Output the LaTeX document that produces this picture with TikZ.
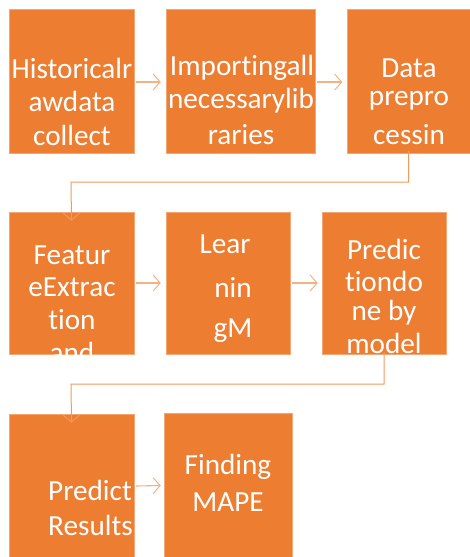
\documentclass[tikz,border=0pt]{standalone}
\usepackage{fontspec}
\setmainfont{Carlito}[Ligatures={NoCommon}]
\usetikzlibrary{arrows.meta}
\definecolor{boxor}{HTML}{ED7D31}
\definecolor{boxedge}{HTML}{F3A874}
\definecolor{arrlight}{HTML}{F4B183}
\definecolor{arrmid}{HTML}{F09A5E}
\tikzset{
  box/.style={fill=boxor, draw=boxedge, line width=0.6pt},
  txt/.style={text=white, font=\fontsize{29.2}{29.2}\selectfont, inner sep=0pt, anchor=center},
  flow/.style={draw=arrlight, line width=1.1pt, -{Straight Barb[length=7pt,width=16pt,line width=1pt]}},
  elbow/.style={draw=arrmid, line width=1pt, -{Straight Barb[length=7pt,width=16pt,line width=1pt]}}
}
\begin{document}
\begin{tikzpicture}[x=1pt,y=-1pt]
\useasboundingbox (0,0) rectangle (469,557);
% boxes
\path[box] (9,9) rectangle (134,153);
\path[box] (166,9) rectangle (315,153);
\path[box] (347,9) rectangle (470,153);
\path[box] (9,212) rectangle (134,354);
\path[box] (166,212) rectangle (290,354);
\path[box] (322,212) rectangle (446,354);
\path[box] (9,414) rectangle (134,558);
\path[box] (164,413) rectangle (292,558);
% node anchors for connectors
\node[inner sep=0pt, minimum width=125pt, minimum height=144pt] (nA) at (71.5,81) {};
\node[inner sep=0pt, minimum width=149pt, minimum height=144pt] (nB) at (240.5,81) {};
\node[inner sep=0pt, minimum width=124pt, minimum height=144pt] (nC) at (408.5,81) {};
\node[inner sep=0pt, minimum width=125pt, minimum height=142pt] (nD) at (71.5,283) {};
\node[inner sep=0pt, minimum width=124pt, minimum height=142pt] (nE) at (228,283) {};
\node[inner sep=0pt, minimum width=124pt, minimum height=142pt] (nF) at (384,283) {};
\node[inner sep=0pt, minimum width=125pt, minimum height=144pt] (nG) at (71.5,486) {};
\node[inner sep=0pt, minimum width=128pt, minimum height=145pt] (nH) at (228,485.5) {};
% texts row 1
\node[txt] (tA1) at (72,68) {Historicalr};
\node[txt] (tA2) at (72,101) {awdata};
\node[txt] (tA3) at (72,135) {collect};
\node[txt] (tB1) at (242,68) {Importingall};
\node[txt] (tB2) at (241,101) {necessarylib};
\node[txt] (tB3) at (241,135) {raries};
\node[txt] (tC1) at (409,68) {Data};
\node[txt] (tC2) at (409,101) {prepro};
\node[txt] (tC3) at (409,135) {cessin};
% row 2
\node[txt] (tD1) at (72,255) {Featur};
\node[txt] (tD2) at (72,287) {eExtrac};
\node[txt] (tD3) at (72,320) {tion};
\begin{scope}
\clip (9,212) rectangle (134,354);
\node[txt] (tD4) at (72,352) {and};
\end{scope}
\node[txt] (tE1) at (225,244) {Lear};
\node[txt] (tE2) at (233,287) {nin};
\node[txt] (tE3) at (233,331) {gM};
\node[txt] (tF1) at (384,249) {Predic};
\node[txt] (tF2) at (384,281) {tiondo};
\node[txt] (tF3) at (384,313) {ne by};
\begin{scope}
\clip (322,212) rectangle (446,354);
\node[txt] (tF4) at (384,343) {model};
\end{scope}
% row 3
\node[txt, anchor=west] (tG1) at (48,490) {Predict};
\node[txt, anchor=west] (tG2) at (48,525) {Results};
\node[txt] (tH1) at (228,467) {Finding};
\node[txt] (tH2) at (228,502) {MAPE};
% arrows
\draw[flow] ([xshift=2pt,yshift=-1pt]nA.east) -- ([xshift=-5pt,yshift=-1pt]nB.west);
\draw[flow] ([xshift=2pt,yshift=-1pt]nB.east) -- ([xshift=-4pt,yshift=-1pt]nC.west);
\draw[flow] ([xshift=2pt]nD.east) -- ([xshift=-5pt]nE.west);
\draw[flow] ([xshift=2pt]nE.east) -- ([xshift=-4pt]nF.west);
\draw[flow] ([xshift=2pt]nG.east) -- ([xshift=-3pt]nH.west);
\draw[elbow] ([yshift=2pt]nC.south) |- (71,182) -- ([yshift=-9pt]nD.north);
\draw[elbow] ([yshift=2pt]nF.south) |- (71,384) -- ([yshift=-9pt]nG.north);
\end{tikzpicture}
\end{document}
